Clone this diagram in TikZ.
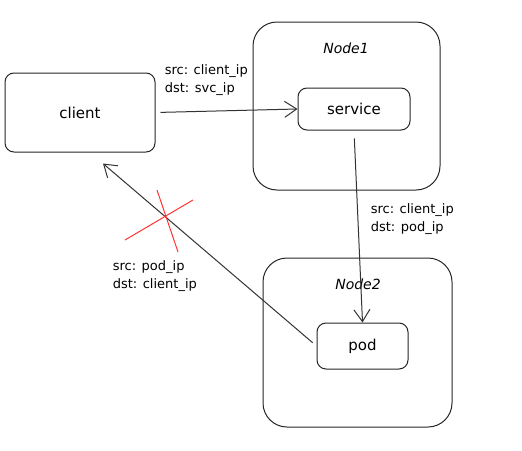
\documentclass[tikz,border=0pt]{standalone}
\usepackage{fontspec}
\setmainfont{DejaVu Sans}
\usetikzlibrary{arrows.meta}

\begin{document}
\begin{tikzpicture}[x=1pt,y=-1pt,
    line width=1pt, draw=black!85,
    hostbox/.style={draw, rounded corners=24pt},
    appbox/.style={draw, rounded corners=9pt, font=\fontsize{15}{18}\selectfont},
    hostname/.style={font=\itshape\fontsize{14}{16}\selectfont},
    flow/.style={-{Straight Barb[length=12pt,width=16pt]}, black!80},
    packet/.style={anchor=north west, align=left, font=\fontsize{13}{18}\selectfont}]
    % Page frame
    \useasboundingbox (0,0) rectangle (522,450);

    % Hosts
    \node[hostbox, minimum width=187pt, minimum height=168pt] (node1) at (346.5,106) {};
    \node[hostname] (node1name) at (346,48) {Node1};
    \node[hostbox, minimum width=189pt, minimum height=169pt] (node2) at (357.5,342.5) {};
    \node[hostname] (node2name) at (358,284) {Node2};

    % Endpoints
    \node[appbox, minimum width=150pt, minimum height=79pt] (client) at (80,112.5) {client};
    \node[appbox, minimum width=112pt, minimum height=42pt] (service) at (354,109) {service};
    \node[appbox, minimum width=91pt, minimum height=46pt] (pod) at (362.5,346) {pod};

    % Request path
    \draw[flow, shorten <=5pt] (client.east) -- (service.west);
    \node[packet] (req1) at (161,61) {src: client\_ip\\dst: svc\_ip};
    \draw[flow, shorten <=8pt] (service.south) -- (pod.north);
    \node[packet] (req2) at (367,200) {src: client\_ip\\dst: pod\_ip};

    % Reply path, dropped
    \draw[flow, shorten <=5pt] (pod.west) -- ([shift={(23,11)}]client.south);
    \node[packet] (reply) at (109,257) {src: pod\_ip\\dst: client\_ip};
    \coordinate (cut) at (165,218);
    \draw[red!80, line width=1pt] ([shift={(-40,22)}]cut) -- ([shift={(28,-18)}]cut);
    \draw[red!80, line width=1pt] ([shift={(-8,-28)}]cut) -- ([shift={(13,34)}]cut);
\end{tikzpicture}
\end{document}
